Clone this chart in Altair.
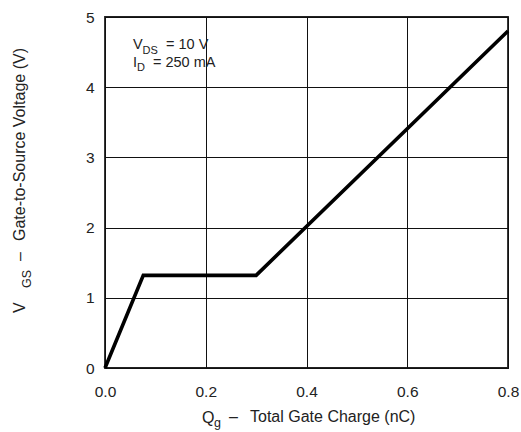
import altair as alt
import pandas as pd

# Data
qg_nc = [0.0, 0.076, 0.30, 0.80]
vgs_v = [0.0, 1.32, 1.32, 4.80]
x_ticks = [0.0, 0.2, 0.4, 0.6, 0.8]
y_ticks = [0, 1, 2, 3, 4, 5]

df = pd.DataFrame({"qg": qg_nc, "vgs": vgs_v})

FONT = "Liberation Sans"
TXT = "#222222"

line = alt.Chart(df).mark_line(color="black", strokeWidth=3.6).encode(
    x=alt.X("qg:Q", scale=alt.Scale(domain=[0, 0.8], nice=False),
            axis=alt.Axis(values=x_ticks, format=".1f", title=None)),
    y=alt.Y("vgs:Q", scale=alt.Scale(domain=[0, 5], nice=False),
            axis=alt.Axis(values=y_ticks, format="d", title=None)),
)


def txt(s, x, y, size, angle=0):
    return alt.Chart(alt.Data(values=[{}])).mark_text(
        text=s, align="left", baseline="alphabetic", font=FONT,
        fontSize=size, color=TXT, angle=angle,
    ).encode(x=alt.value(x), y=alt.value(y))


pieces = [
    # annotation
    txt("V", 28, 32, 14.5),
    txt("DS", 37.5, 36.5, 11),
    txt("= 10 V", 61, 32, 14.5),
    txt("I", 28, 49.5, 14.5),
    txt("D", 32, 54, 11),
    txt("= 250 mA", 48, 49.5, 14.5),
    # x title
    txt("Q", 97, 406, 16),
    txt("g", 109, 410, 12.5),
    txt("\u2013", 124, 405, 16),
    txt("Total Gate Charge (nC)", 145, 405, 16),
    # y title (rotated)
    txt("V", -80, 296, 16, 270),
    txt("GS", -74, 271, 12.5, 270),
    txt("\u2013", -80, 244, 16, 270),
    txt("Gate-to-Source Voltage (V)", -80, 224, 16, 270),
]

chart = alt.layer(line, *pieces).properties(
    width=403, height=351,
    autosize=alt.AutoSizeParams(type="none"),
    padding={"left": 105, "top": 17, "right": 13, "bottom": 64},
    background="white",
).configure_view(
    stroke="#222222", strokeWidth=1.8,
).configure_axis(
    grid=True, gridColor="#111111", gridWidth=1, gridOpacity=1,
    domain=False, ticks=False, tickSize=0, labelFlush=False,
    labelFont=FONT, labelFontSize=15.5, labelColor=TXT,
).configure_axisX(
    labelPadding=16,
).configure_axisY(
    labelPadding=11,
)

chart.save("out.html", embed_options={"renderer": "svg", "actions": False})
